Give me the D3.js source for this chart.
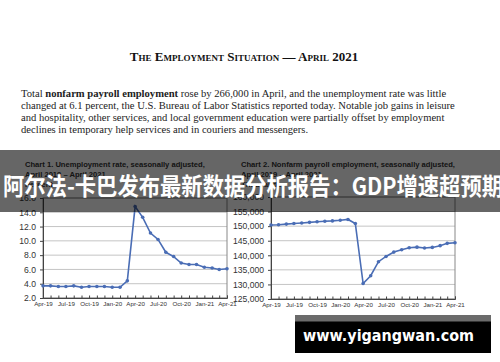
<!DOCTYPE html>
<html>
<head>
<meta charset="utf-8">
<script src="https://cdn.jsdelivr.net/npm/d3@7"></script>
<style>
  body { margin: 0; background: #fff; }
  svg { display: block; }
</style>
</head>
<body>
<script>
let w = 500;
let h = 362;

const months = ["2019-04", "2019-05", "2019-06", "2019-07", "2019-08", "2019-09", "2019-10",
  "2019-11", "2019-12", "2020-01", "2020-02", "2020-03", "2020-04", "2020-05", "2020-06",
  "2020-07", "2020-08", "2020-09", "2020-10", "2020-11", "2020-12", "2021-01", "2021-02",
  "2021-03", "2021-04"];
const unemployment = [3.7, 3.7, 3.6, 3.6, 3.7, 3.5, 3.6, 3.6, 3.6, 3.5, 3.5, 4.4, 14.8, 13.3,
  11.1, 10.2, 8.4, 7.8, 6.9, 6.7, 6.7, 6.3, 6.2, 6.0, 6.1];
const payroll = [150400, 150500, 150700, 150900, 151100, 151300, 151500, 151700, 151800, 152000,
  152300, 150900, 130300, 133000, 137800, 139600, 141100, 141900, 142600, 142800, 142500,
  142700, 143300, 144100, 144300];
const tickLabels = ["Apr-19", "Jul-19", "Oct-19", "Jan-20", "Apr-20", "Jul-20", "Oct-20", "Jan-21", "Apr-21"];
const unemploymentTicks = [2, 4, 6, 8, 10, 12, 14, 16];
const payrollTicks = [125000, 130000, 135000, 140000, 145000, 150000, 155000, 160000];

const parseMonth = d3.timeParse("%Y-%m");
const dates = months.map(parseMonth);

let svg = d3.select("body").append("svg").attr("width", w).attr("height", h);
svg.append("rect").attr("width", w).attr("height", h).attr("fill", "#fff");

// report heading
svg.append("text")
  .attr("x", 244).attr("y", 61)
  .attr("text-anchor", "middle")
  .attr("font-family", "Liberation Serif, serif")
  .attr("font-weight", "bold")
  .attr("font-size", 13)
  .style("font-variant", "small-caps")
  .attr("fill", "#111")
  .text("The Employment Situation — April 2021");

const para = [
  [["Total ", false], ["nonfarm payroll employment", true], [" rose by 266,000 in April, and the unemployment rate was little", false]],
  [["changed at 6.1 percent, the U.S. Bureau of Labor Statistics reported today. Notable job gains in leisure", false]],
  [["and hospitality, other services, and local government education were partially offset by employment", false]],
  [["declines in temporary help services and in couriers and messengers.", false]]
];
para.forEach(function (line, i) {
  let t = svg.append("text")
    .attr("x", 21).attr("y", 97 + i * 12)
    .attr("font-family", "Liberation Serif, serif")
    .attr("font-size", 10.6)
    .attr("fill", "#222");
  line.forEach(function (p) {
    t.append("tspan").attr("font-weight", p[1] ? "bold" : "normal").text(p[0]);
  });
});

function drawChart(opt) {
  let g = svg.append("g");
  let x = d3.scaleTime().domain(d3.extent(dates)).range([opt.left, opt.right]);
  let y = d3.scaleLinear().domain(opt.domain).range([opt.bottom, opt.top]);

  // titles
  opt.title.forEach(function (s, i) {
    g.append("text")
      .attr("x", opt.titleX).attr("y", 167 + i * 10)
      .attr("font-family", "Liberation Sans, Arial, sans-serif")
      .attr("font-weight", "bold")
      .attr("font-size", 7.6)
      .attr("fill", "#333")
      .text(s);
  });

  // gridlines
  g.selectAll(".grid")
    .data(opt.ticks)
    .enter()
    .append("line")
    .attr("x1", opt.left).attr("x2", opt.right)
    .attr("y1", function (d) { return y(d); })
    .attr("y2", function (d) { return y(d); })
    .attr("stroke", "#c4c4c4")
    .attr("stroke-width", 1);

  // frame
  g.append("rect")
    .attr("x", opt.left).attr("y", opt.top)
    .attr("width", opt.right - opt.left).attr("height", opt.bottom - opt.top)
    .attr("fill", "none").attr("stroke", "#888").attr("stroke-width", 1);

  // y axis
  let yAxis = g.append("g")
    .attr("transform", "translate(" + opt.left + ",0)")
    .call(d3.axisLeft(y).tickValues(opt.ticks).tickFormat(opt.fmt).tickSize(3).tickPadding(4));
  yAxis.select(".domain").attr("stroke", "#444");
  yAxis.selectAll("line").attr("stroke", "#444");
  yAxis.selectAll("text")
    .attr("font-family", "Liberation Sans, Arial, sans-serif")
    .attr("font-size", 8.6)
    .attr("fill", "#333");

  // x axis, minor ticks every month, labels every quarter
  let xAxis = g.append("g")
    .attr("transform", "translate(0," + opt.bottom + ")")
    .call(d3.axisBottom(x).tickValues(dates).tickSize(-2.5)
      .tickFormat(function (d, i) { return i % 3 === 0 ? tickLabels[i / 3] : ""; })
      .tickPadding(4));
  xAxis.select(".domain").attr("stroke", "#444");
  xAxis.selectAll("line").attr("stroke", "#444");
  xAxis.selectAll("text")
    .attr("font-family", "Liberation Sans, Arial, sans-serif")
    .attr("font-size", 6.2)
    .attr("fill", "#333");

  let line = d3.line()
    .x(function (d, i) { return x(dates[i]); })
    .y(function (d) { return y(d); })
    .curve(d3.curveLinear);

  g.append("path")
    .attr("d", line(opt.values))
    .attr("stroke", "#4a6db5")
    .attr("stroke-width", 1.6)
    .attr("fill", "none");

  g.selectAll(".dot")
    .data(opt.values)
    .enter()
    .append("circle")
    .attr("cx", function (d, i) { return x(dates[i]); })
    .attr("cy", function (d) { return y(d); })
    .attr("r", 1.8)
    .attr("fill", "#4a6db5");
}

drawChart({
  left: 43, right: 227, top: 198, bottom: 298,
  domain: [2, 16], ticks: unemploymentTicks, values: unemployment,
  fmt: d3.format(".1f"), titleX: 25,
  title: ["Chart 1. Unemployment rate, seasonally adjusted,", "April 2019 – April 2021", "Percent"]
});

drawChart({
  left: 271, right: 455, top: 197, bottom: 299,
  domain: [125000, 160000], ticks: payrollTicks, values: payroll,
  fmt: d3.format(",d"), titleX: 241,
  title: ["Chart 2. Nonfarm payroll employment, seasonally adjusted,", "April 2019 – April 2021", "Thousands"]
});

// headline banner over the page
svg.append("rect")
  .attr("x", 0).attr("y", 150).attr("width", w).attr("height", 62)
  .attr("fill", "#000").attr("fill-opacity", 0.6);

svg.append("text")
  .attr("x", 3).attr("y", 195)
  .attr("font-family", "Noto Sans CJK SC, sans-serif")
  .attr("font-weight", "bold")
  .attr("font-size", 24)
  .attr("fill", "#fff")
  .attr("textLength", 500)
  .attr("lengthAdjust", "spacingAndGlyphs")
  .text("阿尔法-卡巴发布最新数据分析报告：GDP增速超预期");

// site watermark
svg.append("rect")
  .attr("x", 295).attr("y", 315).attr("width", 196).attr("height", 38)
  .attr("fill", "#000");
svg.append("rect")
  .attr("x", 295).attr("y", 315).attr("width", 196).attr("height", 6.5)
  .attr("fill", "#6b6b6b");
svg.append("text")
  .attr("x", 303).attr("y", 341)
  .attr("font-family", "DejaVu Sans, sans-serif")
  .attr("font-weight", "bold")
  .attr("font-size", 16.5)
  .attr("fill", "#fff")
  .attr("textLength", 171)
  .attr("lengthAdjust", "spacingAndGlyphs")
  .text("www.yigangwan.com");
</script>
</body>
</html>
